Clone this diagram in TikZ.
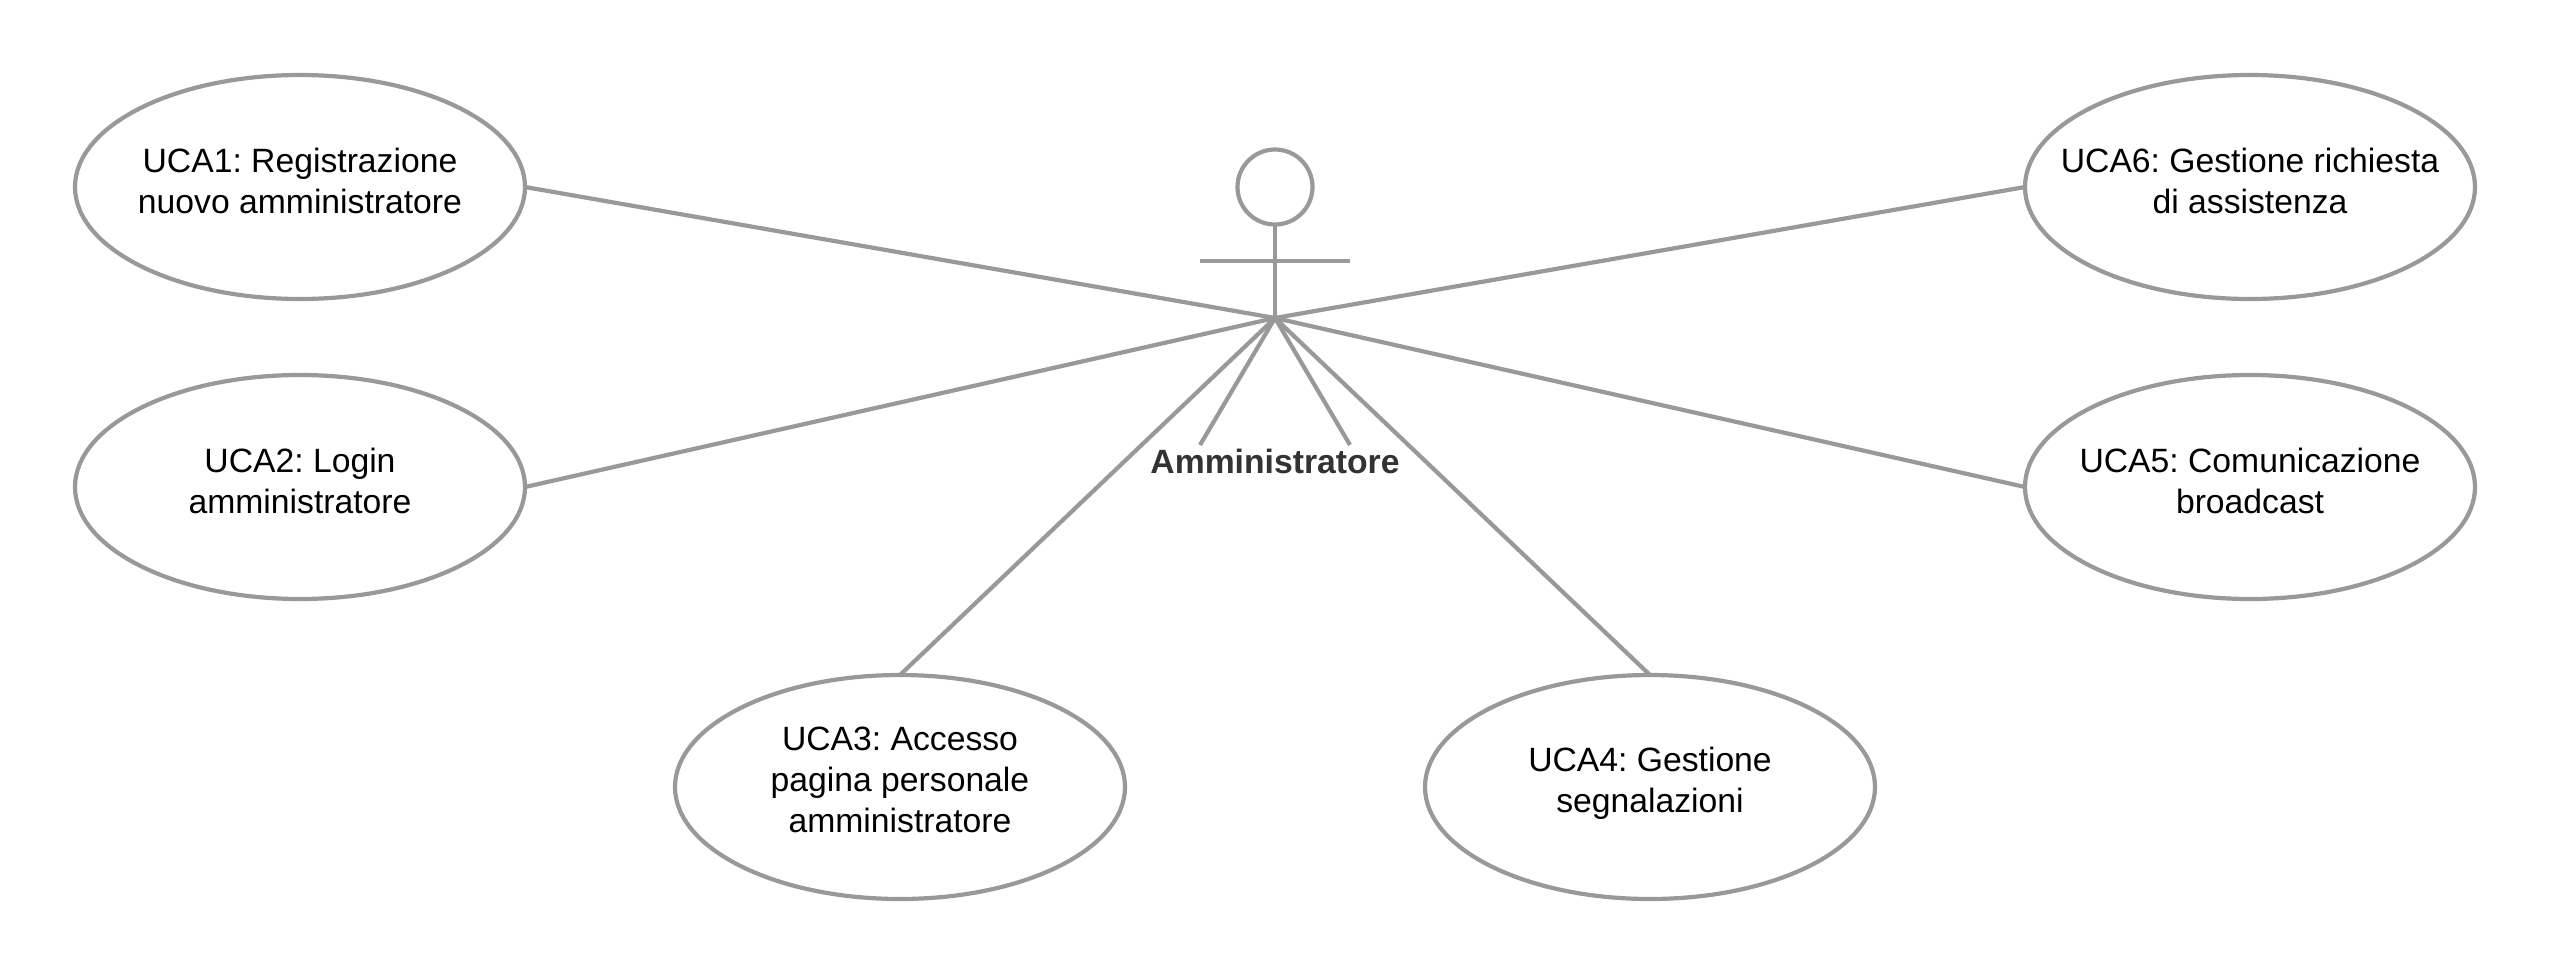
\documentclass[tikz,border=0pt]{standalone}
\usepackage{fontspec}
\setmainfont{Liberation Sans}
\usetikzlibrary{shapes.geometric}
\definecolor{linegray}{HTML}{999999}
\definecolor{labeldark}{HTML}{333333}
\tikzset{
  usecase/.style={ellipse,draw=linegray,line width=4.2pt,fill=white,minimum width=450pt,minimum height=224pt,inner sep=0pt,outer sep=0pt},
  casetext/.style={align=center,text=black,inner sep=0pt,font=\fontsize{33.7}{41}\selectfont\frenchspacing},
  conn/.style={draw=linegray,line width=4.2pt},
  actorhead/.style={circle,draw=linegray,line width=4.2pt,minimum size=75pt,inner sep=0pt,outer sep=0pt},
  actorlabel/.style={text=labeldark,inner sep=0pt,font=\fontsize{33.7}{41}\selectfont\bfseries}
}
\begin{document}
\begin{tikzpicture}[x=1pt,y=-1pt]
\useasboundingbox[fill=white] (0,0) rectangle (2552,975);
\coordinate (hub) at (1275,318);
\coordinate (armL) at (1200,261);
\coordinate (armR) at (1350,261);
\coordinate (legL) at (1200,445);
\coordinate (legR) at (1350,445);
\node[actorhead] (head) at (1275,187) {};
\node[actorlabel] (actor) at (1275,461) {Amministratore};
\node[usecase,label={[casetext,yshift=6.5pt]center:{UCA1: Registrazione\\nuovo amministratore}}] (a1) at (300,187) {};
\node[usecase,label={[casetext,yshift=6.5pt]center:{UCA2: Login\\amministratore}}] (a2) at (300,487) {};
\node[usecase,label={[casetext,yshift=7pt]center:{UCA3: Accesso\\pagina personale\\amministratore}}] (a3) at (900,787) {};
\node[usecase,label={[casetext,yshift=3.5pt]center:{UCA4: Gestione\\segnalazioni}}] (a4) at (1650,787) {};
\node[usecase,label={[casetext,yshift=6.5pt]center:{UCA5: Comunicazione\\broadcast}}] (a5) at (2250,487) {};
\node[usecase,label={[casetext,yshift=6.5pt]center:{UCA6: Gestione richiesta\\di assistenza}}] (a6) at (2250,187) {};
\draw[conn] (head.south) -- (hub);
\draw[conn] (armL) -- (armR);
\draw[conn] (legL) -- (hub) -- (legR);
\draw[conn] (a1.east) -- (hub);
\draw[conn] (a2.east) -- (hub);
\draw[conn] (a3.north) -- (hub);
\draw[conn] (a4.north) -- (hub);
\draw[conn] (a5.west) -- (hub);
\draw[conn] (a6.west) -- (hub);
\end{tikzpicture}
\end{document}
